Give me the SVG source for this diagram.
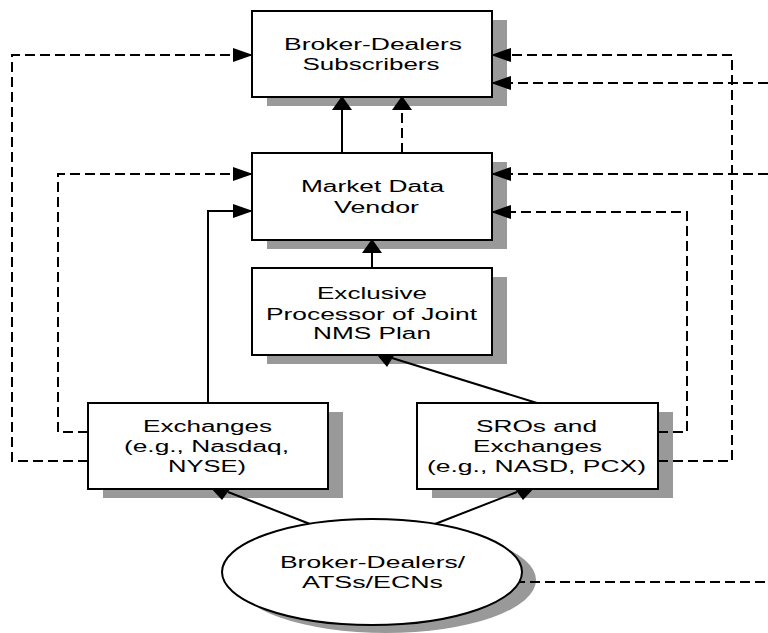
<svg xmlns="http://www.w3.org/2000/svg" width="768" height="633" viewBox="0 0 768 633">
  <style>
    .shadow { fill: #999999; stroke: none; }
    .box { fill: #ffffff; stroke: #000000; stroke-width: 2; }
    .lbl { font-family: "Liberation Sans", Arial, sans-serif; font-size: 16px; fill: #000000; text-anchor: middle; }
    .solid { fill: none; stroke: #000000; stroke-width: 2; }
    .dash { fill: none; stroke: #000000; stroke-width: 2; stroke-dasharray: 10 5; }
    .head { fill: #000000; stroke: none; }
  </style>
  <defs>
    <marker id="ah" markerUnits="userSpaceOnUse" viewBox="0 0 20 14" refX="19" refY="7" markerWidth="20" markerHeight="14" orient="auto">
      <path d="M0,0 L20,7 L0,14 Z" fill="#000000"/>
    </marker>
    <marker id="av" markerUnits="userSpaceOnUse" viewBox="0 0 14 20" refX="13" refY="10" markerWidth="14" markerHeight="20" orient="auto">
      <path d="M0,0 L14,10 L0,20 Z" fill="#000000"/>
    </marker>
  </defs>
  <rect width="768" height="633" fill="#ffffff"/>

  <g id="shadows">
    <rect class="shadow" x="267" y="20" width="240" height="86"/>
    <rect class="shadow" x="267" y="162" width="240" height="87"/>
    <rect class="shadow" x="267" y="277" width="240" height="87"/>
    <rect class="shadow" x="103" y="412" width="240" height="86"/>
    <rect class="shadow" x="432" y="412" width="241" height="86"/>
    <ellipse class="shadow" cx="386" cy="580" rx="150" ry="53"/>
  </g>

  <g id="connectors">
    <path class="dash" d="M88,461 H12 V55 H252" marker-end="url(#ah)"/>
    <path class="dash" d="M88,432 H58 V174 H252" marker-end="url(#ah)"/>
    <path class="solid" d="M208,403 V211 H252" marker-end="url(#ah)"/>
    <path class="solid" d="M342,153 V97" marker-end="url(#av)"/>
    <path class="dash" d="M402,153 V97" marker-end="url(#av)"/>
    <path class="solid" d="M372,268 V240" marker-end="url(#av)"/>
    <path class="dash" d="M658,432 H687 V212 H492" marker-end="url(#ah)"/>
    <path class="dash" d="M658,461 H732 V55 H492" marker-end="url(#ah)"/>
    <path class="dash" d="M768,83 H492" marker-end="url(#ah)"/>
    <path class="dash" d="M768,174 H492" marker-end="url(#ah)"/>
    <path class="dash" d="M515,582 H768"/>
    <path class="solid" d="M537,403 L392,358"/>
    <polygon class="head" points="373,350 387,367 398,349"/>
    <path class="solid" d="M310,524 L228,492"/>
    <polygon class="head" points="208,485 222,500 234,483.5"/>
    <path class="solid" d="M435,524 L517,492"/>
    <polygon class="head" points="537,485 523,500 511,483.5"/>
  </g>

  <g id="broker-dealers-subscribers">
    <rect class="box" x="252" y="11" width="240" height="86"/>
    <text class="lbl" x="373" y="49.5" textLength="178" lengthAdjust="spacingAndGlyphs">Broker-Dealers</text>
    <text class="lbl" x="371" y="70" textLength="137" lengthAdjust="spacingAndGlyphs">Subscribers</text>
  </g>

  <g id="market-data-vendor">
    <rect class="box" x="252" y="153" width="240" height="87"/>
    <text class="lbl" x="372.5" y="192" textLength="143" lengthAdjust="spacingAndGlyphs">Market Data</text>
    <text class="lbl" x="376.5" y="212.5" textLength="85" lengthAdjust="spacingAndGlyphs">Vendor</text>
  </g>

  <g id="exclusive-processor">
    <rect class="box" x="252" y="268" width="240" height="87"/>
    <text class="lbl" x="372" y="299" textLength="110" lengthAdjust="spacingAndGlyphs">Exclusive</text>
    <text class="lbl" x="371.5" y="319.5" textLength="211" lengthAdjust="spacingAndGlyphs">Processor of Joint</text>
    <text class="lbl" x="372" y="338.5" textLength="118" lengthAdjust="spacingAndGlyphs">NMS Plan</text>
  </g>

  <g id="exchanges">
    <rect class="box" x="88" y="403" width="240" height="86"/>
    <text class="lbl" x="207.5" y="432" textLength="129" lengthAdjust="spacingAndGlyphs">Exchanges</text>
    <text class="lbl" x="206.5" y="452" textLength="165" lengthAdjust="spacingAndGlyphs">(e.g., Nasdaq,</text>
    <text class="lbl" x="207" y="472" textLength="78" lengthAdjust="spacingAndGlyphs">NYSE)</text>
  </g>

  <g id="sros-exchanges">
    <rect class="box" x="417" y="403" width="241" height="86"/>
    <text class="lbl" x="536.5" y="432" textLength="121" lengthAdjust="spacingAndGlyphs">SROs and</text>
    <text class="lbl" x="537.5" y="452" textLength="129" lengthAdjust="spacingAndGlyphs">Exchanges</text>
    <text class="lbl" x="536.5" y="472" textLength="219" lengthAdjust="spacingAndGlyphs">(e.g., NASD, PCX)</text>
  </g>

  <g id="broker-dealers-ats-ecn">
    <ellipse class="box" cx="372" cy="572" rx="150" ry="53"/>
    <text class="lbl" x="372.5" y="567.5" textLength="185" lengthAdjust="spacingAndGlyphs">Broker-Dealers/</text>
    <text class="lbl" x="372.5" y="588" textLength="141" lengthAdjust="spacingAndGlyphs">ATSs/ECNs</text>
  </g>
</svg>
